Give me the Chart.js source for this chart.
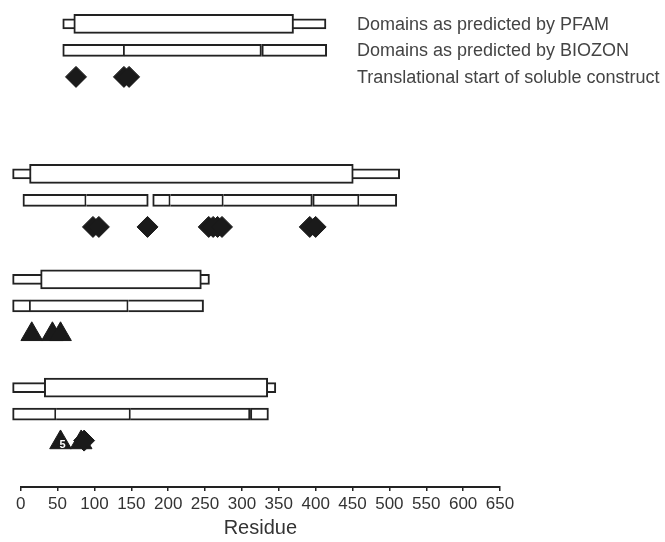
<!DOCTYPE html>
<html>
<head>
<meta charset="utf-8">
<script src="https://cdn.jsdelivr.net/npm/chart.js@4.4.1/dist/chart.umd.min.js"></script>
<style>
  html, body { margin: 0; padding: 0; background: #fff; }
  #wrap { width: 665px; height: 542px; position: relative; }
</style>
</head>
<body>
<div id="wrap"><canvas id="myChart"></canvas></div>
<script>
// Residue ranges (legend sample first, then the three proteins)
const xTicks = [0, 50, 100, 150, 200, 250, 300, 350, 400, 450, 500, 550, 600, 650];
const groupRows = [0, 5.66, 9.64, 13.72];

const pfamFull = [[57, 414], [-11, 514], [-11, 256], [-11, 346]];
const pfamDomain = [[72, 370], [12, 451], [27, 245], [32, 335]];
const biozonSegments = [
    [[57, 141], [141, 326.5], [327, 415]],
    [[3, 89], [89, 173], [179, 203], [203, 275], [275, 395.5], [396, 459], [459, 510]],
    [[-11, 13.5], [13.5, 146], [146, 248]],
    [[-11, 48], [48, 149], [149, 311], [311.5, 336]]
];
const diamondStarts = [[75, 140, 147], [98, 106, 172, 255, 261, 267, 273, 392, 400], [], [86]];
const triangleStarts = [[], [], [15, 43, 54], [54, 82]];
const triangleLabel = { group: 3, residue: 54, text: '5' };

const legendLabels = [
    'Domains as predicted by PFAM',
    'Domains as predicted by BIOZON',
    'Translational start of soluble construct'
];

const ink = '#222';
const fontFamily = '"Liberation Sans", Arial, Helvetica, sans-serif';

// build datasets from the arrays above
const fullData = pfamFull.map((r, i) => ({ x: r, y: groupRows[i] }));
const domainData = pfamDomain.map((r, i) => ({ x: r, y: groupRows[i] }));
const biozonData = [];
biozonSegments.forEach((segs, i) => {
    segs.forEach((s, k) => {
        biozonData.push({ x: s, y: groupRows[i] + 1, joined: k > 0 && segs[k - 1][1] === s[0] });
    });
});
const diamondData = [];
diamondStarts.forEach((list, i) => list.forEach(v => diamondData.push({ x: v, y: groupRows[i] + 2 })));
const triangleData = [];
triangleStarts.forEach((list, i) => list.forEach(v => triangleData.push({ x: v, y: groupRows[i] + 2.07 })));

const barBase = {
    type: 'bar',
    indexAxis: 'y',
    backgroundColor: '#fff',
    borderColor: ink,
    borderWidth: 2,
    borderSkipped: false,
    grouped: false,
    clip: false
};

// legend text and the small number on a marker
const annotate = {
    id: 'annotate',
    afterDatasetsDraw(chart) {
        const { ctx, scales: { x, y } } = chart;
        ctx.save();
        ctx.font = '18px ' + fontFamily;
        ctx.fillStyle = '#444';
        ctx.textBaseline = 'middle';
        ctx.textAlign = 'left';
        legendLabels.forEach((t, i) => {
            ctx.fillText(t, x.getPixelForValue(456), y.getPixelForValue(groupRows[0] + i) + 1);
        });
        ctx.font = 'bold 11px ' + fontFamily;
        ctx.fillStyle = '#fff';
        ctx.textAlign = 'center';
        ctx.fillText(triangleLabel.text,
            x.getPixelForValue(triangleLabel.residue) + 2,
            y.getPixelForValue(groupRows[triangleLabel.group] + 2.07) + 3);
        ctx.restore();
    }
};

const ctx = document.getElementById('myChart');

new Chart(ctx, {
    type: 'bar',
    data: {
        datasets: [
            Object.assign({}, barBase, { label: 'PFAM domain', data: domainData, barThickness: 19, order: 2 }),
            Object.assign({}, barBase, { label: 'Sequence', data: fullData, barThickness: 10, order: 3 }),
            Object.assign({}, barBase, {
                label: 'BIOZON', data: biozonData, barThickness: 12, order: 2,
                borderSkipped: c => (c.raw && c.raw.joined ? 'left' : false)
            }),
            {
                type: 'scatter', label: 'Start (triangle)', data: triangleData, order: 1,
                pointStyle: 'triangle', pointRadius: 12.5, backgroundColor: '#1a1a1a',
                borderColor: '#1a1a1a', borderWidth: 1, clip: false
            },
            {
                type: 'scatter', label: 'Start', data: diamondData, order: 0,
                pointStyle: 'rectRot', pointRadius: 10.5, backgroundColor: '#1a1a1a',
                borderColor: '#1a1a1a', borderWidth: 1, clip: false
            }
        ]
    },
    options: {
        responsive: true,
        maintainAspectRatio: false,
        animation: false,
        layout: { autoPadding: false, padding: { left: 20.7, right: 165, top: 0, bottom: 0 } },
        plugins: {
            legend: { display: false },
            tooltip: { enabled: false }
        },
        scales: {
            x: {
                type: 'linear',
                min: 0,
                max: 650,
                offset: false,
                afterBuildTicks: s => { s.ticks = xTicks.map(v => ({ value: v })); },
                afterFit: s => { s.height = 55; },
                ticks: {
                    autoSkip: false,
                    maxRotation: 0,
                    color: '#333',
                    padding: 3,
                    font: { size: 17, family: fontFamily }
                },
                grid: { offset: false, drawOnChartArea: false, drawTicks: true, tickLength: 4, color: ink, lineWidth: 1.5 },
                border: { display: true, color: ink, width: 2 },
                title: {
                    display: true,
                    text: 'Residue',
                    color: '#333',
                    font: { size: 20, family: fontFamily },
                    padding: { top: 2, bottom: 2 }
                }
            },
            y: {
                type: 'linear',
                reverse: true,
                min: -0.9,
                max: 17.47,
                offset: false,
                grid: { offset: false },
                display: false
            }
        }
    },
    plugins: [annotate]
});
</script>
</body>
</html>
